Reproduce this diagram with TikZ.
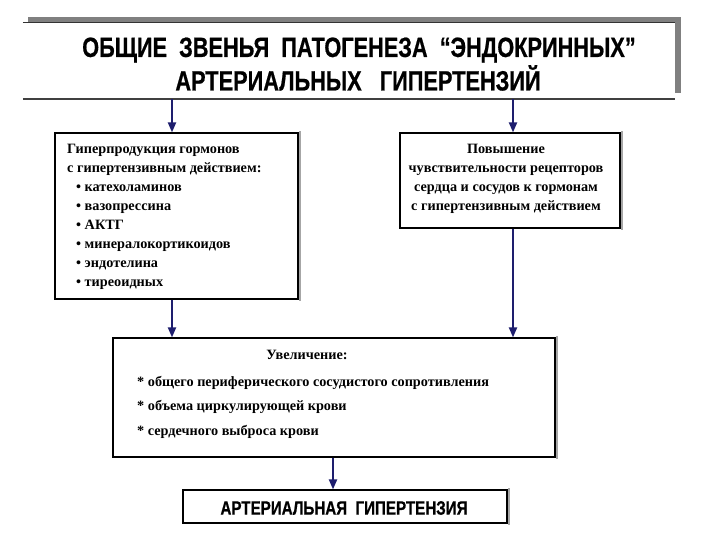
\documentclass[tikz,border=0pt]{standalone}
\usepackage{fontspec}
\setmainfont{Liberation Serif}
\newfontfamily\tsans[FakeStretch=0.78,FakeBold=0.6]{Liberation Sans}
\usetikzlibrary{arrows.meta}
\definecolor{navy}{RGB}{30,30,110}
\definecolor{shgray}{RGB}{128,128,128}
\begin{document}
\begin{tikzpicture}[x=1bp,y=-1bp,
  box/.style={draw=black,line width=1.2bp,inner sep=0pt},
  arr/.style={draw=navy,line width=2bp,-{Triangle[width=8bp,length=10bp]}},
  body/.style={font=\fontsize{14.3}{19}\selectfont\bfseries,inner sep=0pt},
  ttl/.style={font=\tsans\bfseries\fontsize{28}{28}\selectfont,inner sep=0pt},
]
\useasboundingbox[fill=white] (0,0) rectangle (720,540);
% title frame
\fill[shgray] (28,17) rectangle (681,23);
\fill[shgray] (675,17) rectangle (681,93);
\node[minimum width=652bp,minimum height=76bp,inner sep=0pt] (title) at (349,61) {};
\draw[line width=1bp,black!80] (title.north west) -- (title.north east);
\draw[line width=2bp,black!75] (title.south west) -- (title.south east);
\node[ttl] (t1) at (359,50) {ОБЩИЕ\ \ ЗВЕНЬЯ\ \ ПАТОГЕНЕЗА\ \ “ЭНДОКРИННЫХ”};
\node[ttl] (t2) at (358,78) {АРТЕРИАЛЬНЫХ\ \ \ ГИПЕРТЕНЗИЙ};
% boxes
\node[box,minimum width=243bp,minimum height=166bp] (lb) at (176.5,216) {};
\node[box,minimum width=220bp,minimum height=95bp] (rb) at (510,180.5) {};
\node[box,minimum width=442bp,minimum height=119bp] (mb) at (334,397.5) {};
\node[box,minimum width=324bp,minimum height=33bp] (bb) at (345,506.5) {};
% light right-hand shadows of the boxes
\foreach \b in {lb,rb,mb,bb}
  \draw[gray!70,line width=1.5bp] ([xshift=1.6bp,yshift=1bp]\b.north east) -- ([xshift=1.6bp,yshift=-1.5bp]\b.south east);
% texts
\node[body,anchor=north west,align=left] (lt) at (67,144) {Гиперпродукция гормонов\\с гипертензивным действием:\\
\hspace*{9bp}\textbullet\ катехоламинов\\
\hspace*{9bp}\textbullet\ вазопрессина\\
\hspace*{9bp}\textbullet\ АКТГ\\
\hspace*{9bp}\textbullet\ минералокортикоидов\\
\hspace*{9bp}\textbullet\ эндотелина\\
\hspace*{9bp}\textbullet\ тиреоидных};
\node[body,anchor=north,align=center] (rt) at (506,144) {Повышение\\чувствительности рецепторов\\сердца и сосудов к гормонам\\с гипертензивным действием};
\node[body] (mh) at (307,355) {Увеличение:};
\node[body,anchor=north west,align=left,font=\fontsize{14.3}{24.5}\selectfont\bfseries] (mt) at (137,376) {* общего периферического сосудистого сопротивления\\* объема циркулирующей крови\\* сердечного выброса крови};
\node[ttl,font=\tsans\bfseries\fontsize{19.5}{19.5}\selectfont] (bt) at (344,508) {АРТЕРИАЛЬНАЯ\ \ ГИПЕРТЕНЗИЯ};
% arrows
\coordinate (xa) at (172,0);
\coordinate (xb) at (513,0);
\coordinate (xc) at (333,0);
\draw[arr] (title.south -| xa) -- (lb.north -| xa);
\draw[arr] (title.south -| xb) -- (rb.north -| xb);
\draw[arr] (lb.south -| xa) -- (mb.north -| xa);
\draw[arr] (rb.south -| xb) -- (mb.north -| xb);
\draw[arr] (mb.south -| xc) -- (bb.north -| xc);
\end{tikzpicture}
\end{document}
